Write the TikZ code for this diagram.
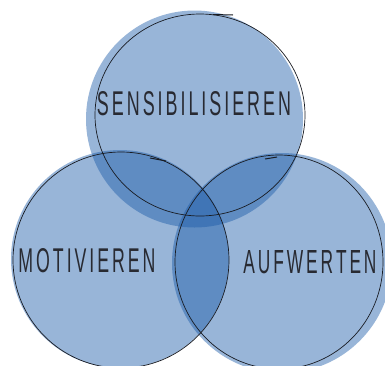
\documentclass[tikz,border=0pt]{standalone}
\usepackage{fontspec}
\setmainfont{Liberation Sans}
\usepackage{graphicx}
\definecolor{vennblue}{RGB}{27,91,169}
\definecolor{pen}{RGB}{25,28,35}
\definecolor{ink}{RGB}{40,42,50}
\tikzset{
  vennfill/.style={fill=vennblue, fill opacity=0.45, draw=none},
  pencircle/.style={draw=pen, line width=0.7pt},
  label/.style={text=ink, inner sep=0pt}
}
\begin{document}
\begin{tikzpicture}[x=1pt,y=-1pt]
\useasboundingbox (0,0) rectangle (385,365);
\clip (0,0) rectangle (385,365);
\fill[white] (0,0) rectangle (385,365);
% fills
\fill[vennfill] (120,259) circle[radius=109];
\fill[vennfill] (282,263) circle[radius=110];
\fill[vennfill] (194.5,119) circle[radius=108.5];
% outlines
\draw[pencircle] (200,115) ellipse[x radius=105, y radius=101];
\draw[pencircle] (121,260) ellipse[x radius=108, y radius=108];
\draw[pencircle] (279,262) ellipse[x radius=104, y radius=107];
% pen overlaps
\draw[pen, line width=1pt] (213,14.5) -- (233,15);
\draw[pen, line width=1pt] (150,158) -- (166,161);
\draw[pen, line width=1pt] (265,159) -- (277,157);
% labels
\node[label] (sens) at (194,104) {\resizebox{194pt}{24pt}{S\,E\,N\,S\,I\,B\,I\,L\,I\,S\,I\,E\,R\,E\,N}};
\node[label] (moti) at (87,261) {\resizebox{137pt}{24pt}{M\,O\,T\,I\,V\,I\,E\,R\,E\,N}};
\node[label] (aufw) at (310,262) {\resizebox{133pt}{23pt}{A\,U\,F\,W\,E\,R\,T\,E\,N}};
\end{tikzpicture}
\end{document}
